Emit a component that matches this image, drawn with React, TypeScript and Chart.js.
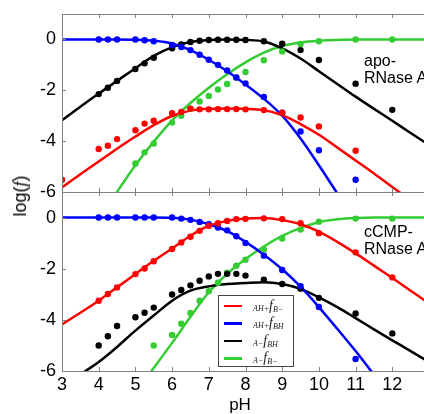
import React, { useEffect, useRef } from 'react';
import { Chart, registerables } from 'chart.js';

Chart.register(...registerables);

// ---------- data ----------
const phGrid = [3, 3.5, 4, 4.5, 5, 5.5, 6, 6.5, 7, 7.5, 8, 8.5, 9, 9.5, 10, 10.5, 11, 11.5, 12, 12.5, 13];
const phPoints = [3, 4, 4.25, 4.5, 5, 5.25, 5.5, 6, 6.25, 6.5, 6.75, 7, 7.25, 7.5, 7.75, 8, 8.5, 9, 9.5, 10, 11, 12];
const xTickValues = [3, 4, 5, 6, 7, 8, 9, 10, 11, 12, 13];
const xTickLabels = [3, 4, 5, 6, 7, 8, 9, 10, 11, 12];
const yTickValues = [-6, -4, -2, 0];

// apo-RNase A : fitted curves (on phGrid)
const apoRedFit = [-5.82, -5.3, -4.8, -4.3, -3.82, -3.37, -3.01, -2.8, -2.73, -2.72, -2.73, -2.78, -2.98, -3.33, -3.75, -4.25, -4.76, -5.27, -5.8, -6.33, -6.85];
const apoBlueFit = [0, 0, 0, 0, -0.01, -0.05, -0.16, -0.42, -0.8, -1.25, -1.77, -2.33, -3.0, -3.9, -4.95, -6.05, -7.1, null, null, null, null];
const apoBlackFit = [-3.18, -2.65, -2.13, -1.63, -1.13, -0.65, -0.3, -0.1, -0.02, 0, -0.02, -0.08, -0.35, -0.75, -1.25, -1.75, -2.25, -2.73, -3.2, -3.68, -4.15];
const apoGreenFit = [null, null, -7.1, -6.0, -4.95, -4.02, -3.18, -2.5, -1.9, -1.37, -0.9, -0.52, -0.26, -0.12, -0.05, -0.02, 0, 0, 0, 0, 0];

// apo-RNase A : measured points (on phPoints)
const apoRedPts = [-5.52, -4.31, -4.18, -3.92, -3.57, -3.31, -3.2, -2.9, -2.85, -2.72, -2.75, -2.75, -2.74, -2.74, -2.74, -2.75, -2.78, -2.88, -3.07, -3.42, -4.38, null];
const apoBluePts = [null, 0, 0, 0, 0, -0.03, -0.07, -0.22, -0.3, -0.42, -0.6, -0.8, -1.0, -1.22, -1.5, -1.73, -2.26, -2.88, -3.62, -4.36, -5.52, null];
const apoBlackPts = [null, -2.15, -1.9, -1.63, -1.16, -0.94, -0.72, -0.35, -0.2, -0.1, -0.05, -0.02, -0.01, -0.01, -0.01, -0.02, -0.07, -0.17, -0.42, -0.81, -1.74, -2.77];
const apoGreenPts = [null, null, null, null, -4.88, -4.44, -4.09, -3.27, -3.0, -2.72, -2.44, -2.22, -1.97, -1.75, -1.5, -1.28, -0.82, -0.47, -0.18, -0.07, 0, 0];

// cCMP-RNase A : fitted curves (on phGrid)
const cRedFit = [-4.18, -3.72, -3.25, -2.73, -2.21, -1.69, -1.21, -0.71, -0.32, -0.13, -0.04, -0.02, -0.1, -0.26, -0.55, -0.95, -1.4, -1.88, -2.36, -2.86, -3.36];
const cBlueFit = [0, 0, 0, 0, 0, 0, -0.01, -0.08, -0.26, -0.53, -0.95, -1.45, -2.02, -2.7, -3.5, -4.35, -5.22, -6.15, -7.1, null, null];
const cBlackFit = [-6.8, -6.15, -5.65, -5.06, -4.42, -3.83, -3.25, -2.86, -2.69, -2.6, -2.56, -2.53, -2.6, -2.79, -3.12, -3.5, -3.93, -4.37, -4.8, -5.22, -5.65];
const cGreenFit = [null, null, null, null, -6.85, -5.88, -4.9, -3.88, -2.92, -2.2, -1.62, -1.13, -0.72, -0.4, -0.18, -0.07, -0.02, 0, 0, 0, 0];

// cCMP-RNase A : measured points (on phPoints)
const cRedPts = [null, -3.25, -2.99, -2.73, -2.21, -1.99, -1.71, -1.23, -0.97, -0.75, -0.52, -0.32, -0.22, -0.13, -0.06, -0.05, -0.03, -0.06, -0.22, -0.61, -1.36, -2.34];
const cBluePts = [null, 0, 0, 0, 0, 0, 0, 0, -0.04, -0.09, -0.17, -0.26, -0.39, -0.5, -0.73, -0.99, -1.49, -2.05, -2.68, -3.5, -5.53, null];
const cBlackPts = [null, -5.0, -4.64, -4.24, -3.9, -3.72, -3.52, -3.01, -2.83, -2.65, -2.47, -2.3, -2.2, -2.2, -2.2, -2.27, -2.43, -2.6, -2.78, -3.14, -3.75, -4.53];
const cGreenPts = [null, null, null, null, null, null, -5.0, -4.59, -4.15, -3.73, -3.25, -2.88, -2.55, -2.16, -1.88, -1.65, -1.25, -0.82, -0.47, -0.16, -0.04, -0.04];

// ---------- styles ----------
const RED = '#ff0000';
const BLUE = '#0000ff';
const BLACK = '#000000';
const GREEN = '#33cc33';
const FONT = "'Liberation Sans', Arial, Helvetica, sans-serif";
const SERIF = "'Liberation Serif', 'DejaVu Serif', serif";
const FRAME = '#808080';

const toXY = (xs: number[], ys: (number | null)[]) =>
  xs.map((x, i) => ({ x, y: ys[i] })).filter((p) => p.y !== null);

const lineDs = (ys: (number | null)[], color: string) => ({
  type: 'line' as const,
  data: toXY(phGrid, ys),
  borderColor: color,
  backgroundColor: color,
  borderWidth: 2.5,
  pointRadius: 0,
  cubicInterpolationMode: 'monotone' as const,
  fill: false,
});

const ptsDs = (ys: (number | null)[], color: string) => ({
  type: 'scatter' as const,
  data: toXY(phPoints, ys),
  borderColor: color,
  backgroundColor: color,
  pointRadius: 3.2,
  pointBorderWidth: 0,
  showLine: false,
});

const framePlugin = {
  id: 'frame',
  afterDatasetsDraw(chart: any) {
    const { ctx, chartArea, scales } = chart;
    const { left, top, right, bottom } = chartArea;
    ctx.save();
    ctx.strokeStyle = FRAME;
    ctx.lineWidth = 1;
    ctx.beginPath();
    ctx.moveTo(left + 0.5, top + 0.5);
    ctx.lineTo(right + 0.5, top + 0.5);
    ctx.lineTo(right + 0.5, bottom + 0.5);
    ctx.lineTo(left + 0.5, bottom + 0.5);
    ctx.closePath();
    const tl = 4;
    xTickValues.forEach((v) => {
      const px = Math.round(scales.x.getPixelForValue(v)) + 0.5;
      ctx.moveTo(px, top);
      ctx.lineTo(px, top + tl);
      ctx.moveTo(px, bottom);
      ctx.lineTo(px, bottom - tl);
    });
    yTickValues.forEach((v) => {
      const py = Math.round(scales.y.getPixelForValue(v)) + 0.5;
      ctx.moveTo(left, py);
      ctx.lineTo(left + tl, py);
      ctx.moveTo(right, py);
      ctx.lineTo(right - tl, py);
    });
    ctx.stroke();
    ctx.restore();
  },
};

const zeroPad = (s: any) => {
  s.paddingTop = 0;
  s.paddingBottom = 0;
  s.paddingLeft = 0;
  s.paddingRight = 0;
};

function makeConfig(datasets: any[], showX: boolean): any {
  const xScale: any = {
    type: 'linear',
    min: 3,
    max: 13,
    display: showX,
    grid: { display: false, drawTicks: false },
    border: { display: false },
    afterBuildTicks: (s: any) => {
      s.ticks = xTickLabels.map((v) => ({ value: v }));
    },
    afterFit: (s: any) => {
      if (showX) s.height = 43;
      zeroPad(s);
    },
    ticks: {
      padding: 3,
      autoSkip: false,
      maxRotation: 0,
      color: '#000',
      font: { family: FONT, size: 18 },
      callback: (v: any) => String(v),
    },
  };
  return {
    data: { datasets },
    plugins: [framePlugin],
    options: {
      animation: false,
      responsive: false,
      events: [],
      layout: { padding: { left: 0, right: 11, top: showX ? 8 : 14, bottom: showX ? 0 : 8 } },
      plugins: { legend: { display: false }, tooltip: { enabled: false } },
      scales: {
        x: xScale,
        y: {
          type: 'linear',
          min: -6,
          max: 1,
          grid: { display: false, drawTicks: false },
          border: { display: false },
          afterBuildTicks: (s: any) => {
            s.ticks = yTickValues.map((v) => ({ value: v }));
          },
          afterFit: (s: any) => {
            s.width = 62;
            zeroPad(s);
          },
          ticks: {
            padding: 6,
            color: '#000',
            font: { family: FONT, size: 18 },
            callback: (v: any) => String(v),
          },
        },
      },
    },
  };
}

function Panel({ datasets, showX, top, height }: { datasets: any[]; showX: boolean; top: number; height: number }) {
  const ref = useRef<HTMLCanvasElement | null>(null);
  useEffect(() => {
    if (!ref.current) return;
    const chart = new Chart(ref.current, makeConfig(datasets, showX));
    return () => chart.destroy();
  }, []);
  return (
    <canvas
      ref={ref}
      width={440}
      height={height}
      style={{ position: 'absolute', left: 0, top, width: 440, height }}
    />
  );
}

const LegendLabel = ({ pre, sub }: { pre: string; sub: string }) => (
  <span style={{ fontFamily: SERIF, fontStyle: 'italic', color: '#222', whiteSpace: 'nowrap' }}>
    <span style={{ fontSize: 8, position: 'relative', top: 1 }}>{pre}</span>
    <span style={{ fontSize: 14 }}>f</span>
    <span style={{ fontSize: 8, position: 'relative', top: 2 }}>{sub}</span>
  </span>
);

const legendItems = [
  { color: RED, pre: 'AH+', sub: 'B\u2212' },
  { color: BLUE, pre: 'AH+', sub: 'BH' },
  { color: BLACK, pre: 'A\u2212', sub: 'BH' },
  { color: GREEN, pre: 'A\u2212', sub: 'B\u2212' },
];

export default function App() {
  const topSets = [
    ptsDs(apoRedPts, RED),
    ptsDs(apoBluePts, BLUE),
    ptsDs(apoBlackPts, BLACK),
    ptsDs(apoGreenPts, GREEN),
    lineDs(apoRedFit, RED),
    lineDs(apoBlueFit, BLUE),
    lineDs(apoBlackFit, BLACK),
    lineDs(apoGreenFit, GREEN),
  ];
  const bottomSets = [
    ptsDs(cRedPts, RED),
    ptsDs(cBluePts, BLUE),
    ptsDs(cBlackPts, BLACK),
    ptsDs(cGreenPts, GREEN),
    lineDs(cRedFit, RED),
    lineDs(cBlueFit, BLUE),
    lineDs(cBlackFit, BLACK),
    lineDs(cGreenFit, GREEN),
  ];

  const note: React.CSSProperties = {
    position: 'absolute',
    left: 364,
    fontFamily: FONT,
    fontSize: 16,
    lineHeight: '17px',
    color: '#000',
    whiteSpace: 'nowrap',
  };

  return (
    <div
      style={{
        position: 'absolute',
        left: 0,
        top: 0,
        width: 424,
        height: 414,
        overflow: 'hidden',
        background: '#fff',
      }}
    >
      <Panel datasets={topSets} showX={false} top={0} height={200} />
      <Panel datasets={bottomSets} showX={true} top={184} height={230} />

      <div style={{ ...note, top: 52 }}>
        apo-
        <br />
        RNase A
      </div>
      <div style={{ ...note, top: 223 }}>
        cCMP-
        <br />
        RNase A
      </div>

      <div
        style={{
          position: 'absolute',
          left: 20,
          top: 196,
          transform: 'translate(-50%, -50%) rotate(-90deg)',
          fontFamily: FONT,
          fontSize: 18,
          lineHeight: '20px',
          whiteSpace: 'nowrap',
          color: '#000',
        }}
      >
        log(<span style={{ fontFamily: SERIF, fontStyle: 'italic' }}>f</span>)
      </div>

      <div
        style={{
          position: 'absolute',
          left: 240,
          top: 396,
          transform: 'translateX(-50%)',
          fontFamily: FONT,
          fontSize: 17,
          lineHeight: '17px',
          color: '#000',
        }}
      >
        pH
      </div>

      <div
        style={{
          position: 'absolute',
          left: 218,
          top: 295,
          width: 76,
          height: 72,
          boxSizing: 'border-box',
          border: '1px solid #444',
          background: '#fff',
        }}
      >
        {legendItems.map((it, i) => (
          <div
            key={i}
            style={{ position: 'absolute', left: 0, top: 2 + i * 17.5, height: 16, width: 74, display: 'flex', alignItems: 'center' }}
          >
            <div style={{ marginLeft: 5, width: 18, height: 2.5, background: it.color }} />
            <div style={{ marginLeft: 11, lineHeight: '16px' }}>
              <LegendLabel pre={it.pre} sub={it.sub} />
            </div>
          </div>
        ))}
      </div>
    </div>
  );
}
